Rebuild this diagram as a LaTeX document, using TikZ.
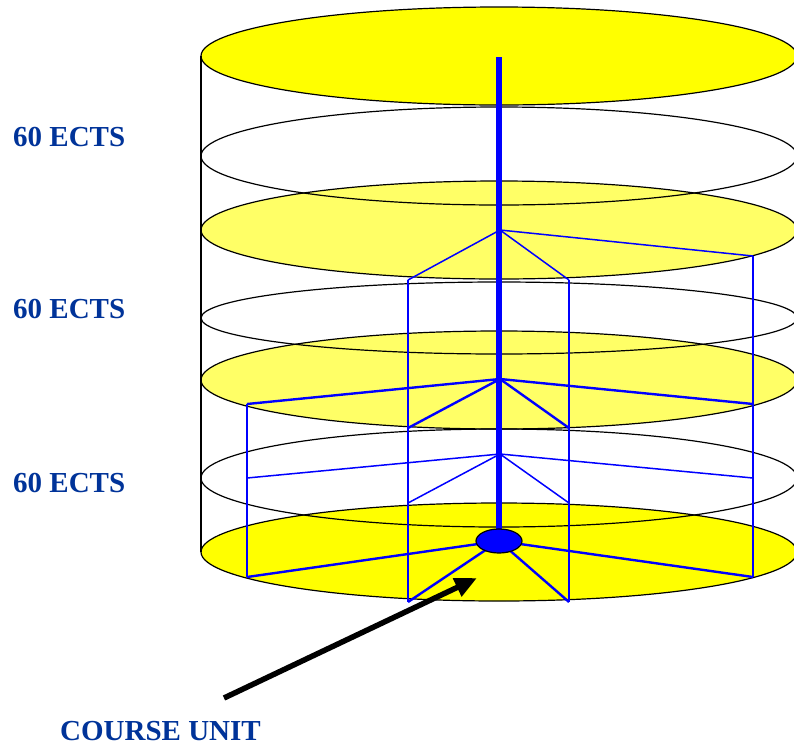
\documentclass[tikz,border=0pt]{standalone}
\usepackage{fontspec}
\setmainfont{Liberation Serif}
\usepackage{xcolor}
\usetikzlibrary{arrows.meta, shapes.geometric}
\definecolor{ectsblue}{RGB}{0,51,153}
\definecolor{fullyellow}{RGB}{255,255,0}
\definecolor{paleyellow}{RGB}{255,255,102}
\definecolor{pureblue}{RGB}{0,0,255}

\begin{document}
\begin{tikzpicture}[x=1pt, y=-1pt,
    ectslabel/.style={font=\fontsize{29}{32}\selectfont\bfseries, text=ectsblue, anchor=base west, inner sep=0pt},
    frame/.style={pureblue, line width=1.5pt},
    spoke/.style={pureblue, line width=2.4pt},
    rim/.style={black, line width=1.2pt}]
    \useasboundingbox (0,0) rectangle (794,745);
    \clip (0,0) rectangle (794,745);
    \def\cx{499}
    \def\rx{298}

    % Filled layers (years)
    \foreach \cy/\col in {56/fullyellow, 230/paleyellow, 380/paleyellow, 552/fullyellow} {
        \fill[\col] (\cx,\cy) ellipse [x radius=\rx, y radius=49];
    }

    % Cylinder walls
    \draw[rim] (\cx-\rx,56) -- (\cx-\rx,552);
    \draw[rim] (\cx+\rx,56) -- (\cx+\rx,552);

    % Layer outlines
    \foreach \cy/\ry in {56/49, 156/49, 230/49, 318/36, 380/49, 478/49, 552/49} {
        \draw[rim] (\cx,\cy) ellipse [x radius=\rx, y radius=\ry];
    }

    % Hubs on the axis
    \coordinate (h1) at (500,230);
    \coordinate (h2) at (500,379);
    \coordinate (h3) at (500,454);
    \coordinate (cu) at (499,541);

    % Columns of the frame
    \foreach \x/\t/\b in {247/404/577, 408/280/602, 569/280/602, 753/256/577} {
        \draw[frame] (\x,\t) -- (\x,\b);
    }

    % Spokes
    \foreach \x/\y in {408/280, 569/280, 753/256} {
        \draw[frame] (h1) -- (\x,\y);
    }
    \foreach \x/\y in {247/404, 408/428, 569/428, 753/404} {
        \draw[spoke] (h2) -- (\x,\y);
    }
    \foreach \x/\y in {247/478, 408/503, 569/503, 753/478} {
        \draw[frame] (h3) -- (\x,\y);
    }
    \foreach \x/\y in {247/577, 408/602, 569/602, 753/577} {
        \draw[spoke] (cu) -- (\x,\y);
    }

    % Axis and course unit
    \draw[pureblue, line width=6pt] (499,57) -- (cu);
    \node[ellipse, draw=black, fill=pureblue, line width=1.2pt, inner sep=0pt,
          minimum width=46pt, minimum height=24pt] (hub) at (cu) {};

    % Labels
    \node[ectslabel] (ects1) at (13,146) {60 ECTS};
    \node[ectslabel] (ects2) at (13,318) {60 ECTS};
    \node[ectslabel] (ects3) at (13,492) {60 ECTS};
    \node[ectslabel] (unit) at (60,740) {COURSE UNIT};

    % Pointer
    \coordinate (tail) at (224,698);
    \coordinate (tip) at (477,578);
    \draw[line width=5.5pt, -{Triangle[length=22pt, width=19pt]}] (tail) -- (tip);
\end{tikzpicture}
\end{document}
